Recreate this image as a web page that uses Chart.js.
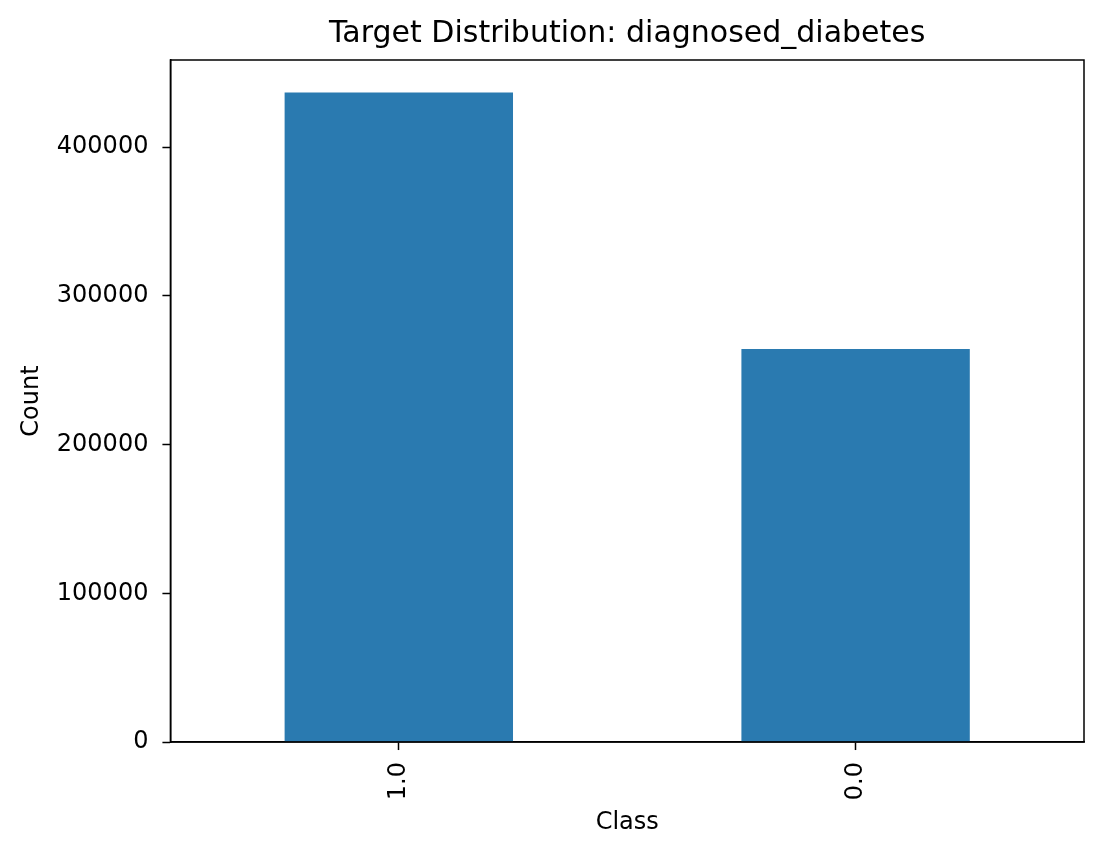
<!DOCTYPE html>
<html lang="en">
<head>
    <meta charset="UTF-8">
    <title>Target Distribution: diagnosed_diabetes</title>
    <script src="https://cdn.jsdelivr.net/npm/chart.js"></script>
    <style>
        body { margin: 0; background: #fff; }
        #wrap { width: 1100px; height: 853px; }
    </style>
</head>
<body>
    <div id="wrap"><canvas id="targetChart" width="1100" height="853"></canvas></div>

    <script>
        // data
        const classes = ['1.0', '0.0'];
        const counts = [436700, 264300];
        const yTicks = [0, 100000, 200000, 300000, 400000];

        const font = 'DejaVu Sans';

        // box round the plot, like matplotlib's spines
        const frame = {
            id: 'frame',
            afterDraw(chart) {
                const a = chart.chartArea, ctx = chart.ctx;
                ctx.save();
                ctx.strokeStyle = '#000';
                ctx.lineWidth = 1.5;
                ctx.strokeRect(a.left, a.top, a.right - a.left, a.bottom - a.top);
                ctx.restore();
            }
        };

        new Chart(document.getElementById('targetChart').getContext('2d'), {
            type: 'bar',
            data: {
                labels: classes,
                datasets: [{
                    label: 'Count',
                    data: counts,
                    backgroundColor: '#2a7ab0',
                    categoryPercentage: 1.0,
                    barPercentage: 0.5
                }]
            },
            options: {
                responsive: false,
                devicePixelRatio: 1,
                animation: false,
                layout: { padding: { left: 17, right: 16, top: 4, bottom: 16 } },
                plugins: {
                    legend: { display: false },
                    tooltip: { enabled: false },
                    title: {
                        display: true,
                        fullSize: false,
                        text: 'Target Distribution: diagnosed_diabetes',
                        color: '#000',
                        font: { family: font, size: 30, weight: 'normal' },
                        padding: { top: 12, bottom: 8 }
                    }
                },
                scales: {
                    x: {
                        offset: true,
                        grid: { display: true, drawOnChartArea: false, offset: false, tickLength: 8, color: '#000', tickWidth: 1.5 },
                        border: { color: '#000', width: 1.5 },
                        ticks: {
                            color: '#000',
                            font: { family: font, size: 24 },
                            minRotation: 90,
                            maxRotation: 90,
                            padding: 12
                        },
                        title: {
                            display: true,
                            text: 'Class',
                            color: '#000',
                            font: { family: font, size: 24 },
                            padding: { top: -4, bottom: 0 }
                        }
                    },
                    y: {
                        min: 0,
                        max: Math.max(...counts) * 1.05,
                        afterBuildTicks(axis) {
                            axis.ticks = yTicks.map(v => ({ value: v }));
                        },
                        grid: { display: true, drawOnChartArea: false, tickLength: 8, color: '#000', tickWidth: 1.5 },
                        border: { color: '#000', width: 1.5 },
                        ticks: {
                            color: '#000',
                            font: { family: font, size: 24 },
                            padding: 14,
                            callback: v => String(v)
                        },
                        title: {
                            display: true,
                            text: 'Count',
                            color: '#000',
                            font: { family: font, size: 24 },
                            padding: { top: 0, bottom: -3 }
                        }
                    }
                }
            },
            plugins: [frame]
        });
    </script>
</body>
</html>
